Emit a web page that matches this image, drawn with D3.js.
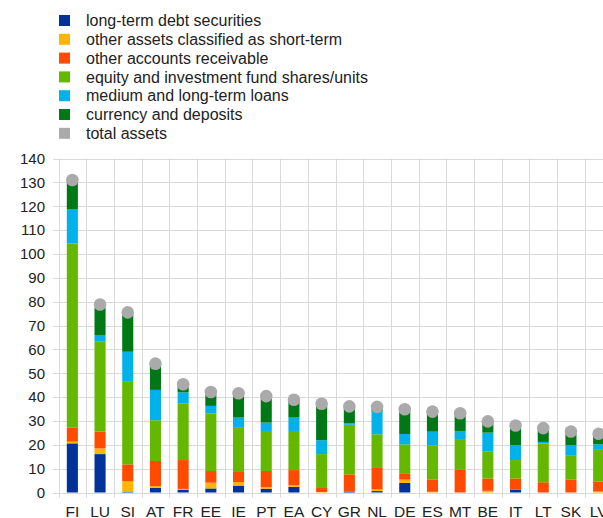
<!DOCTYPE html>
<html>
<head>
<meta charset="utf-8">
<script src="https://cdn.jsdelivr.net/npm/d3@7"></script>
<style>
  html, body { margin: 0; padding: 0; background: #fff; overflow: hidden; }
  svg { display: block; font-family: "Liberation Sans", Arial, sans-serif; }
</style>
</head>
<body>
<svg id="chart" width="603" height="518"></svg>
<script>
// Country codes, ordered by total assets
const countries = ["FI","LU","SI","AT","FR","EE","IE","PT","EA","CY","GR","NL","DE","ES","MT","BE","IT","LT","SK","LV"];

// Stacked components (bottom to top)
const longTermDebt   = [20.6,16.1,0.2,2.0,1.2,1.7,2.9,1.6,2.4,0.0,0.3,0.6,4.0,0.0,0.0,0.0,1.2,0.0,0.0,0.0];
const shortTermOther = [0.7,2.4,4.6,0.7,0.3,2.4,1.5,0.7,0.6,0.2,0.0,0.7,1.4,0.3,0.0,0.7,0.0,0.0,0.0,0.4];
const receivable     = [6.0,7.0,7.0,10.5,12.1,4.9,4.2,6.7,6.4,1.7,7.3,9.3,2.4,5.2,9.7,5.2,4.7,4.3,5.5,4.1];
const equityShares   = [77.1,37.7,34.6,17.1,23.8,24.2,18.8,16.8,16.4,14.2,20.8,13.8,12.4,14.3,12.7,11.2,7.7,16.3,9.9,13.7];
const loans          = [14.4,2.8,12.6,12.7,4.6,3.1,4.0,3.5,5.6,5.8,0.6,9.5,4.3,5.7,3.4,8.0,6.2,0.6,4.4,2.0];
const deposits       = [11.5,11.5,15.5,10.0,2.5,4.7,9.4,10.2,6.6,14.4,6.2,1.3,9.5,7.5,6.5,3.7,7.4,4.8,4.7,3.4];

// Total assets (marker)
const totalAssets    = [131.0,78.8,75.5,54.0,45.4,42.1,41.6,40.4,38.9,37.2,36.1,35.9,34.9,33.9,33.2,29.8,28.1,27.0,25.6,24.6];

const yTicks = [0,10,20,30,40,50,60,70,80,90,100,110,120,130,140];

const seriesNames = [
  "long-term debt securities",
  "other assets classified as short-term",
  "other accounts receivable",
  "equity and investment fund shares/units",
  "medium and long-term loans",
  "currency and deposits"
];
const seriesValues = [longTermDebt, shortTermOther, receivable, equityShares, loans, deposits];
const seriesColors = ["#003299","#ffb400","#ff4b00","#65b800","#00b1ea","#007816"];
const totalColor = "#aaaaaa";

const svg = d3.select("#chart");

// Table for the stack layout
const rows = countries.map((c, i) => {
  const r = { country: c, total: totalAssets[i] };
  seriesNames.forEach((s, k) => { r[s] = seriesValues[k][i]; });
  return r;
});

const x = d3.scaleBand()
  .domain(countries)
  .range([58.5, 612.5])
  .paddingInner(0.6)
  .paddingOuter(0.3);

const y = d3.scaleLinear()
  .domain([0, 140])
  .range([492.5, 158.5]);

// Horizontal gridlines
svg.append("g")
  .selectAll("line")
  .data(yTicks)
  .join("line")
  .attr("x1", 53).attr("x2", 603)
  .attr("y1", d => Math.round(y(d)) + 0.5)
  .attr("y2", d => Math.round(y(d)) + 0.5)
  .attr("stroke", "#d9d9d9")
  .attr("stroke-width", 1);

// Vertical separators between categories (extend below the baseline as ticks)
const step = x.step();
const sepPos = d3.range(countries.length + 1).map(i => x.range()[0] + i * step);
svg.append("g")
  .selectAll("line")
  .data(sepPos)
  .join("line")
  .attr("x1", d => Math.round(d) + 0.5).attr("x2", d => Math.round(d) + 0.5)
  .attr("y1", y(140)).attr("y2", y(0) + 5)
  .attr("stroke", "#d9d9d9")
  .attr("stroke-width", 1);

// Y axis labels
const yAxis = d3.axisLeft(y).tickValues(yTicks).tickSize(0).tickPadding(0);
const yG = svg.append("g")
  .attr("transform", "translate(45,0)")
  .call(yAxis);
yG.select(".domain").remove();
yG.selectAll("text")
  .attr("font-family", "'Liberation Sans', Arial, sans-serif")
  .attr("font-size", 15)
  .attr("fill", "#222");

// X axis labels
const xAxis = d3.axisBottom(x).tickSize(0).tickPadding(0);
const xG = svg.append("g")
  .attr("transform", `translate(0,${y(0)})`)
  .call(xAxis);
xG.select(".domain").remove();
xG.selectAll("text")
  .attr("dy", 0)
  .attr("y", 24)
  .attr("font-family", "'Liberation Sans', Arial, sans-serif")
  .attr("font-size", 15.5)
  .attr("fill", "#222");

// Stacked bars
const stack = d3.stack().keys(seriesNames);
const layers = stack(rows);

svg.append("g")
  .selectAll("g")
  .data(layers)
  .join("g")
  .attr("fill", (d, i) => seriesColors[i])
  .selectAll("rect")
  .data(d => d)
  .join("rect")
  .attr("x", d => x(d.data.country))
  .attr("width", x.bandwidth())
  .attr("y", d => y(d[1]))
  .attr("height", d => Math.max(0, y(d[0]) - y(d[1])));

// Total assets markers
svg.append("g")
  .selectAll("circle")
  .data(rows)
  .join("circle")
  .attr("cx", d => x(d.country) + x.bandwidth() / 2)
  .attr("cy", d => y(d.total))
  .attr("r", 6.3)
  .attr("fill", totalColor);

// Legend
const legendItems = seriesNames.map((s, i) => ({ name: s, color: seriesColors[i] }))
  .concat([{ name: "total assets", color: totalColor }]);
const lg = svg.append("g").attr("transform", "translate(59,15)");
const item = lg.selectAll("g")
  .data(legendItems)
  .join("g")
  .attr("transform", (d, i) => `translate(0,${i * 18.8})`);
item.append("rect")
  .attr("width", 11).attr("height", 11)
  .attr("fill", d => d.color);
item.append("text")
  .attr("x", 27)
  .attr("y", 5.5)
  .attr("dy", "0.35em")
  .attr("font-size", 16)
  .attr("fill", "#222")
  .text(d => d.name);
</script>
</body>
</html>
